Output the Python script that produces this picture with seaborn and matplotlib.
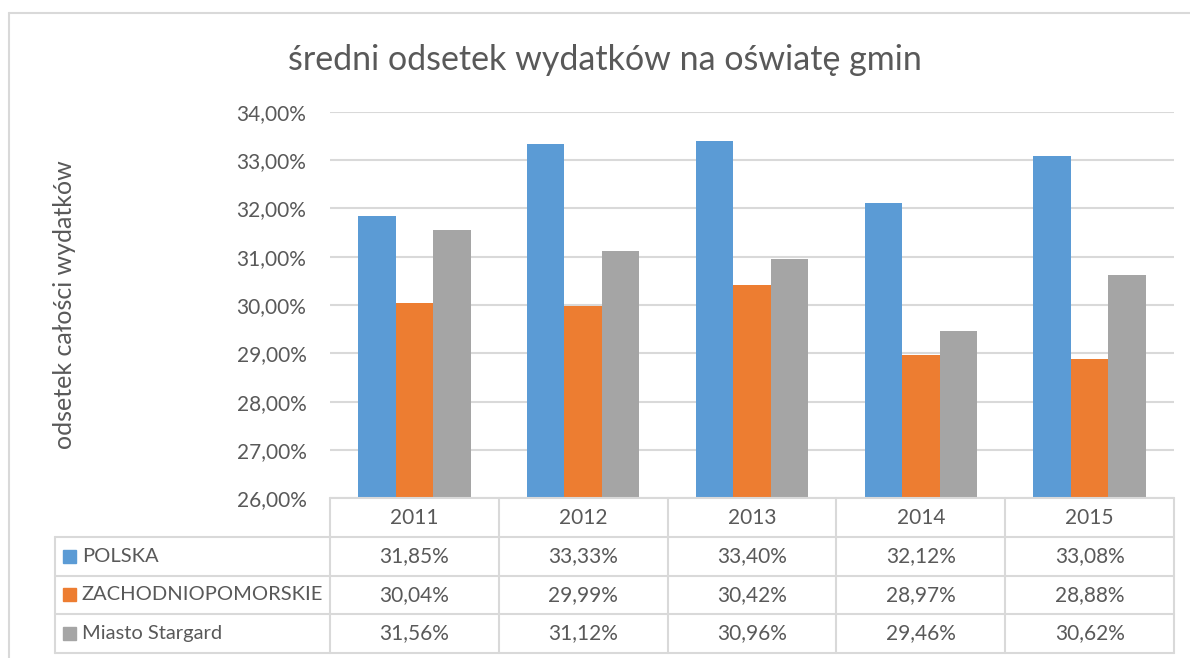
import numpy as np
import pandas as pd
import matplotlib
matplotlib.use('Agg')
import matplotlib.pyplot as plt
import seaborn as sns
from matplotlib.lines import Line2D
from matplotlib.patches import Rectangle
from matplotlib.ticker import FuncFormatter
from matplotlib.transforms import blended_transform_factory

# --- dane z wykresu ---
years = ['2011', '2012', '2013', '2014', '2015']
series = ['POLSKA', 'ZACHODNIOPOMORSKIE', 'Miasto Stargard']
polska = [31.85, 33.33, 33.40, 32.12, 33.08]
zachodniopomorskie = [30.04, 29.99, 30.42, 28.97, 28.88]
stargard = [31.56, 31.12, 30.96, 29.46, 30.62]
colors = ['#5B9BD5', '#ED7D31', '#A5A5A5']

df = pd.DataFrame({
    'rok': years * 3,
    'seria': np.repeat(series, len(years)),
    'wartosc': polska + zachodniopomorskie + stargard,
})

sns.set_style('white')
plt.rcParams['font.family'] = ['Lato', 'DejaVu Sans']

TXT = '#595959'
LINE = '#D9D9D9'
W, H = 1190, 658
FS = 15


def fx(px):
    return px / W


def fy(py):
    return 1 - py / H


fig = plt.figure(figsize=(W / 100, H / 100), dpi=100)

# obszar wykresu (w pikselach)
L, R, T, B = 330, 1174, 111.7, 498.4
ax = fig.add_axes([fx(L), fy(B), fx(R - L), (B - T) / H])

sns.barplot(data=df, x='rok', y='wartosc', hue='seria', palette=colors,
            saturation=1, width=0.665, gap=0, errorbar=None, linewidth=0,
            legend=False, ax=ax, zorder=3)

ax.set_ylim(26, 34)
ax.set_xlim(-0.5, len(years) - 0.5)
ax.set_yticks(np.arange(26, 35, 1))
ax.yaxis.set_major_formatter(FuncFormatter(lambda v, p: f'{v:.2f}%'.replace('.', ',')))
ax.tick_params(axis='y', length=0, pad=17, labelsize=FS, labelcolor=TXT)
ax.tick_params(axis='x', length=0, labelbottom=False)
ax.set_xlabel('')
ax.set_ylabel('')
ax.grid(axis='y', color=LINE, linewidth=1.5, zorder=0)
ax.set_axisbelow(True)
for s in ax.spines.values():
    s.set_visible(False)

# tytul i opis osi
fig.text(fx(605), fy(60), 'średni odsetek wydatków na oświatę gmin',
         ha='center', va='center', fontsize=24.5, color=TXT)
fig.text(fx(65), fy(305), 'odsetek całości wydatków', rotation=90,
         ha='center', va='center', fontsize=18, color=TXT)

# ramka wykresu
fig.add_artist(Line2D([fx(9), fx(9)], [fy(13), 0], color=LINE, lw=1.5))
fig.add_artist(Line2D([fx(9), 1], [fy(13), fy(13)], color=LINE, lw=1.5))

# tabela danych
rows_y = [B, 537, 575.5, 614, 652.5]
tr = blended_transform_factory(ax.transData, fig.transFigure)


def hline(x0, x1, y):
    fig.add_artist(Line2D([fx(x0), fx(x1)], [fy(y), fy(y)], color=LINE, lw=1.5))


hline(L, R, rows_y[0])
for y in rows_y[1:]:
    hline(55, R, y)
# pionowe linie
for i in range(len(years) + 1):
    xd = i - 0.5
    fig.add_artist(Line2D([xd, xd], [fy(rows_y[0]), fy(rows_y[-1])],
                          color=LINE, lw=1.5, transform=tr))
fig.add_artist(Line2D([fx(55), fx(55)], [fy(rows_y[1]), fy(rows_y[-1])], color=LINE, lw=1.5))

# naglowki lat
for i, yr in enumerate(years):
    fig.text(i, fy((rows_y[0] + rows_y[1]) / 2), yr, transform=tr,
             ha='center', va='center', fontsize=FS, color=TXT)

# wiersze serii
for r, (name, vals, c) in enumerate(zip(series, [polska, zachodniopomorskie, stargard], colors)):
    yc = (rows_y[r + 1] + rows_y[r + 2]) / 2
    fig.add_artist(Rectangle((fx(63), fy(yc + 6.5)), fx(13), 13 / H, color=c))
    fig.text(fx(82), fy(yc), name, ha='left', va='center', fontsize=14.5, color=TXT)
    for i, v in enumerate(vals):
        fig.text(i, fy(yc), f'{v:.2f}%'.replace('.', ','), transform=tr,
                 ha='center', va='center', fontsize=FS, color=TXT)

fig.savefig('out.png', dpi=100)
